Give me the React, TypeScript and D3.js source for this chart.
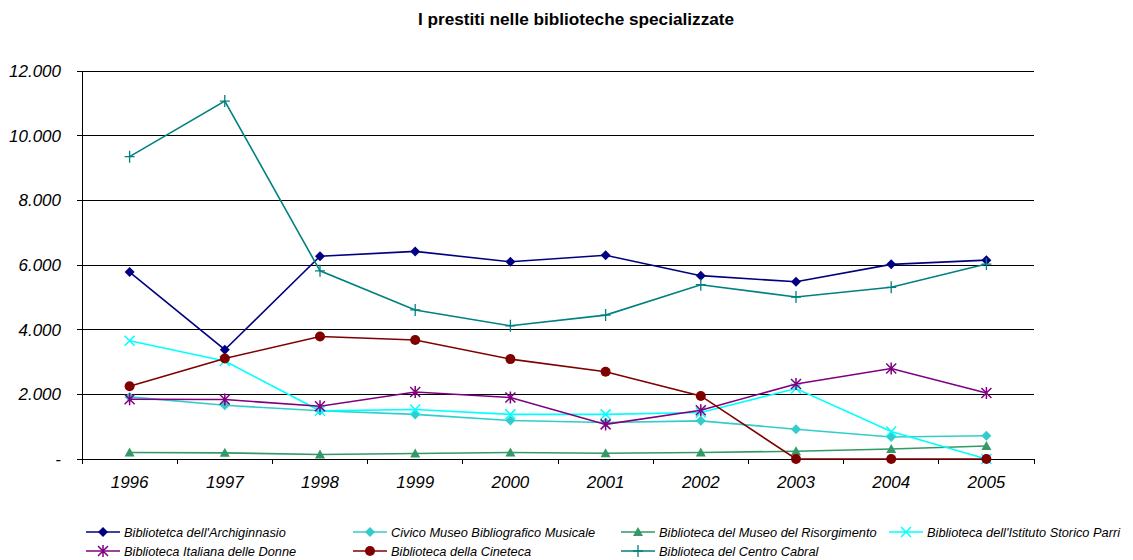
import React from 'react';
import * as d3 from 'd3';

const years = ['1996', '1997', '1998', '1999', '2000', '2001', '2002', '2003', '2004', '2005'];
const yTicks = [0, 2000, 4000, 6000, 8000, 10000, 12000];

const archiginnasio = [5780, 3380, 6270, 6420, 6100, 6300, 5670, 5480, 6020, 6150];
const civico = [1920, 1660, 1490, 1380, 1190, 1130, 1180, 920, 680, 720];
const risorgimento = [200, 190, 140, 170, 200, 180, 200, 240, 310, 400];
const parri = [3660, 3030, 1490, 1530, 1380, 1380, 1440, 2180, 850, 0];
const donne = [1850, 1840, 1630, 2070, 1900, 1070, 1510, 2320, 2800, 2040];
const cineteca = [2250, 3110, 3790, 3680, 3090, 2700, 1950, 0, 0, 0];
const cabral = [9350, 11070, 5820, 4610, 4120, 4450, 5390, 5010, 5310, 6030];

const seriesNames = [
  "Bibliotetca dell'Archiginnasio",
  'Civico Museo Bibliografico Musicale',
  'Biblioteca del Museo del Risorgimento',
  "Biblioteca dell'Istituto Storico Parri",
  'Biblioteca Italiana delle Donne',
  'Biblioteca della Cineteca',
  'Biblioteca del Centro Cabral',
];

type Marker = 'diamond' | 'triangle' | 'x' | 'star' | 'circle' | 'plus';

const series: { name: string; values: number[]; color: string; marker: Marker }[] = [
  { name: seriesNames[0], values: archiginnasio, color: '#000080', marker: 'diamond' },
  { name: seriesNames[1], values: civico, color: '#33CCCC', marker: 'diamond' },
  { name: seriesNames[2], values: risorgimento, color: '#339966', marker: 'triangle' },
  { name: seriesNames[3], values: parri, color: '#00FFFF', marker: 'x' },
  { name: seriesNames[4], values: donne, color: '#800080', marker: 'star' },
  { name: seriesNames[5], values: cineteca, color: '#800000', marker: 'circle' },
  { name: seriesNames[6], values: cabral, color: '#008080', marker: 'plus' },
];

const font = '"Liberation Sans", Arial, sans-serif';

function MarkerShape({ type, x, y, color }: { type: Marker; x: number; y: number; color: string }) {
  const t = `translate(${x},${y})`;
  switch (type) {
    case 'diamond':
      return <path transform={t} d="M0,-5L5,0L0,5L-5,0Z" fill={color} />;
    case 'triangle':
      return <path transform={t} d="M0,-5L5,4L-5,4Z" fill={color} />;
    case 'circle':
      return <circle cx={x} cy={y} r={5} fill={color} />;
    case 'x':
      return <path transform={t} d="M-5,-5L5,5M-5,5L5,-5" stroke={color} strokeWidth={1.5} fill="none" />;
    case 'plus':
      return <path transform={t} d="M-5,0L5,0M0,-6L0,6" stroke={color} strokeWidth={1.3} fill="none" />;
    case 'star':
      return <path transform={t} d="M-5,-5L5,5M-5,5L5,-5M0,-6L0,6" stroke={color} strokeWidth={1.5} fill="none" />;
  }
}

export default function App() {
  const width = 1133;
  const height = 560;
  const margin = { top: 71, left: 82, right: 99, bottom: 101 };
  const plotRight = width - margin.right;
  const plotBottom = height - margin.bottom;

  const x = d3.scaleBand().domain(years).range([margin.left, plotRight]);
  const y = d3.scaleLinear().domain([0, 12000]).range([plotBottom, margin.top]);
  const fmt = (v: number) => (v === 0 ? '-' : d3.format(',')(v).replace(/,/g, '.'));
  const cx = (i: number) => (x(years[i]) as number) + x.bandwidth() / 2;

  const line = d3
    .line<number>()
    .x((_, i) => cx(i))
    .y(d => y(d));

  const legendCols = [86, 353, 621, 889];
  const legendRows = [532, 551];

  return (
    <svg width={width} height={height} style={{ position: 'absolute', left: 0, top: 0, background: '#fff' }}>
      <text x={576} y={25} textAnchor="middle" fontFamily={font} fontWeight="bold" fontSize={17.2}>
        I prestiti nelle biblioteche specializzate
      </text>

      {yTicks.map(t => (
        <g key={t}>
          <line x1={margin.left - 5} x2={plotRight} y1={y(t)} y2={y(t)} stroke="#000" strokeWidth={1} shapeRendering="crispEdges" />
          <text x={61} y={y(t) + 6} textAnchor="end" fontFamily={font} fontStyle="italic" fontSize={17}>
            {fmt(t)}
          </text>
        </g>
      ))}

      <line x1={margin.left} x2={margin.left} y1={margin.top} y2={plotBottom + 5} stroke="#000" shapeRendering="crispEdges" />
      {years.map((yr, i) => (
        <g key={yr}>
          <line x1={(x(yr) as number) + x.bandwidth()} x2={(x(yr) as number) + x.bandwidth()} y1={plotBottom} y2={plotBottom + 5} stroke="#000" shapeRendering="crispEdges" />
          <text x={cx(i)} y={488} textAnchor="middle" fontFamily={font} fontStyle="italic" fontSize={17}>
            {yr}
          </text>
        </g>
      ))}

      {series.map(s => (
        <g key={s.name}>
          <path d={line(s.values) || ''} fill="none" stroke={s.color} strokeWidth={1.6} />
          {s.values.map((v, i) => (
            <MarkerShape key={i} type={s.marker} x={cx(i)} y={y(v)} color={s.color} />
          ))}
        </g>
      ))}

      {series.map((s, i) => {
        const lx = legendCols[i % 4];
        const ly = legendRows[Math.floor(i / 4)];
        return (
          <g key={'lg' + s.name}>
            <line x1={lx} x2={lx + 34} y1={ly} y2={ly} stroke={s.color} strokeWidth={1.6} />
            <MarkerShape type={s.marker} x={lx + 17} y={ly} color={s.color} />
            <text x={lx + 38} y={ly + 4.5} fontFamily={font} fontStyle="italic" fontSize={12.8}>
              {s.name}
            </text>
          </g>
        );
      })}
    </svg>
  );
}
